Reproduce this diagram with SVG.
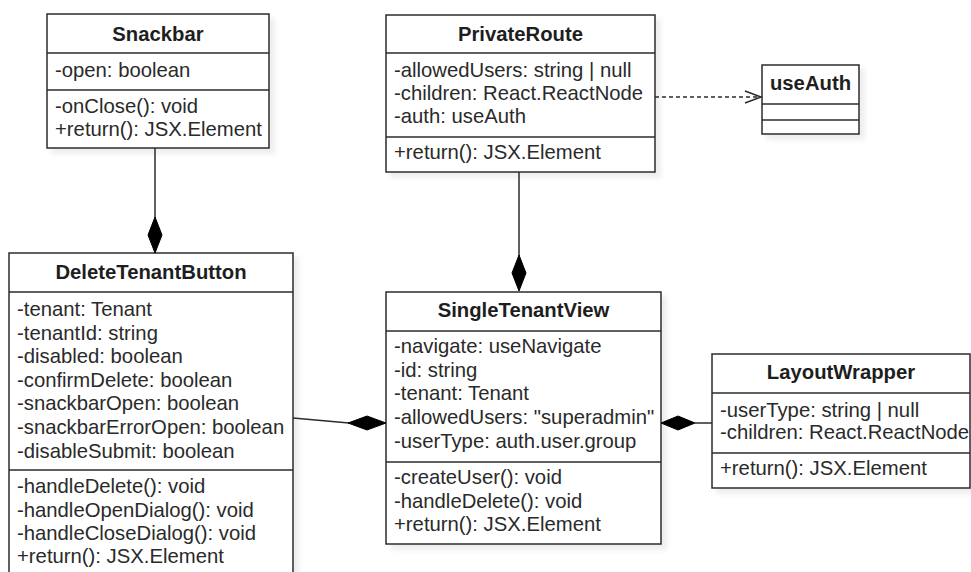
<svg xmlns="http://www.w3.org/2000/svg" width="971" height="572" viewBox="0 0 971 572">
  <defs>
    <filter id="shadow" x="-10%" y="-10%" width="130%" height="130%">
      <feGaussianBlur in="SourceAlpha" stdDeviation="2.5"/>
      <feOffset dx="5" dy="5" result="b"/>
      <feFlood flood-color="#000" flood-opacity="0.07"/>
      <feComposite in2="b" operator="in"/>
      <feMerge><feMergeNode/><feMergeNode in="SourceGraphic"/></feMerge>
    </filter>
  </defs>
  <style>
    .box { fill: #ffffff; stroke: #2b2b2b; stroke-width: 1.5; }
    .sep { stroke: #2b2b2b; stroke-width: 1.5; }
    .title { font-family: "Liberation Sans", Arial, sans-serif; font-size: 20.3px; font-weight: bold; fill: #1e1e1e; text-anchor: middle; }
    .mem { font-family: "Liberation Sans", Arial, sans-serif; font-size: 20.3px; fill: #2a2a2a; }
    .edge { stroke: #2b2b2b; stroke-width: 1.5; fill: none; }
    .dash { stroke-dasharray: 4 3; }
    .comp { fill: #000000; stroke: #000000; stroke-width: 1; }
  </style>

  <!-- Snackbar -->
  <g id="snackbar">
    <rect class="box" x="47" y="14" width="222" height="134" filter="url(#shadow)"/>
    <line class="sep" x1="47" y1="53" x2="269" y2="53"/>
    <line class="sep" x1="47" y1="90" x2="269" y2="90"/>
    <text class="title" x="158" y="41">Snackbar</text>
    <text class="mem" x="55" y="77">-open: boolean</text>
    <text class="mem" x="55" y="113">-onClose(): void</text>
    <text class="mem" x="55" y="136">+return(): JSX.Element</text>
  </g>

  <!-- PrivateRoute -->
  <g id="privateRoute">
    <rect class="box" x="386" y="15" width="269" height="157" filter="url(#shadow)"/>
    <line class="sep" x1="386" y1="53" x2="655" y2="53"/>
    <line class="sep" x1="386" y1="137" x2="655" y2="137"/>
    <text class="title" x="520.5" y="41">PrivateRoute</text>
    <text class="mem" x="394" y="77">-allowedUsers: string | null</text>
    <text class="mem" x="394" y="100">-children: React.ReactNode</text>
    <text class="mem" x="394" y="123">-auth: useAuth</text>
    <text class="mem" x="394" y="159">+return(): JSX.Element</text>
  </g>

  <!-- useAuth -->
  <g id="useAuth">
    <rect class="box" x="762" y="65" width="97" height="69" filter="url(#shadow)"/>
    <line class="sep" x1="762" y1="104" x2="859" y2="104"/>
    <line class="sep" x1="762" y1="120" x2="859" y2="120"/>
    <text class="title" x="810.5" y="90">useAuth</text>
  </g>

  <!-- DeleteTenantButton -->
  <g id="deleteTenantButton">
    <rect class="box" x="9" y="253" width="284" height="330" filter="url(#shadow)"/>
    <line class="sep" x1="9" y1="292" x2="293" y2="292"/>
    <line class="sep" x1="9" y1="470" x2="293" y2="470"/>
    <text class="title" x="151" y="279">DeleteTenantButton</text>
    <text class="mem" x="17" y="316">-tenant: Tenant</text>
    <text class="mem" x="17" y="339.6">-tenantId: string</text>
    <text class="mem" x="17" y="363.2">-disabled: boolean</text>
    <text class="mem" x="17" y="386.8">-confirmDelete: boolean</text>
    <text class="mem" x="17" y="410.4">-snackbarOpen: boolean</text>
    <text class="mem" x="17" y="434">-snackbarErrorOpen: boolean</text>
    <text class="mem" x="17" y="457.6">-disableSubmit: boolean</text>
    <text class="mem" x="17" y="493">-handleDelete(): void</text>
    <text class="mem" x="17" y="516.5">-handleOpenDialog(): void</text>
    <text class="mem" x="17" y="540">-handleCloseDialog(): void</text>
    <text class="mem" x="17" y="563">+return(): JSX.Element</text>
  </g>

  <!-- SingleTenantView -->
  <g id="singleTenantView">
    <rect class="box" x="386" y="292" width="275" height="252" filter="url(#shadow)"/>
    <line class="sep" x1="386" y1="331" x2="661" y2="331"/>
    <line class="sep" x1="386" y1="462" x2="661" y2="462"/>
    <text class="title" x="523.5" y="317">SingleTenantView</text>
    <text class="mem" x="394" y="353">-navigate: useNavigate</text>
    <text class="mem" x="394" y="377">-id: string</text>
    <text class="mem" x="394" y="400">-tenant: Tenant</text>
    <text class="mem" x="394" y="424">-allowedUsers: "superadmin"</text>
    <text class="mem" x="394" y="448">-userType: auth.user.group</text>
    <text class="mem" x="394" y="484">-createUser(): void</text>
    <text class="mem" x="394" y="508">-handleDelete(): void</text>
    <text class="mem" x="394" y="531">+return(): JSX.Element</text>
  </g>

  <!-- LayoutWrapper -->
  <g id="layoutWrapper">
    <rect class="box" x="712" y="354" width="258" height="134" filter="url(#shadow)"/>
    <line class="sep" x1="712" y1="393" x2="970" y2="393"/>
    <line class="sep" x1="712" y1="453" x2="970" y2="453"/>
    <text class="title" x="841" y="379">LayoutWrapper</text>
    <text class="mem" x="720" y="417">-userType: string | null</text>
    <text class="mem" x="720" y="439">-children: React.ReactNode</text>
    <text class="mem" x="720" y="475">+return(): JSX.Element</text>
  </g>

  <!-- Connectors -->
  <g id="connectors">
    <!-- Snackbar composed into DeleteTenantButton -->
    <line class="edge" x1="155" y1="148" x2="155" y2="218"/>
    <polygon class="comp" points="155,217 162,235 155,253 148,235"/>
    <!-- PrivateRoute composed into SingleTenantView -->
    <line class="edge" x1="519" y1="172" x2="519" y2="256"/>
    <polygon class="comp" points="519,255 526,273 519,291 512,273"/>
    <!-- PrivateRoute depends on useAuth -->
    <line class="edge dash" x1="655" y1="97" x2="761" y2="97"/>
    <polyline class="edge" points="745,91 761,97 745,103"/>
    <!-- DeleteTenantButton composed into SingleTenantView -->
    <line class="edge" x1="293" y1="418" x2="349" y2="423"/>
    <polygon class="comp" points="386,423 367,416 348,423 367,430"/>
    <!-- LayoutWrapper composed into SingleTenantView -->
    <polygon class="comp" points="661,423 678,416 695,423 678,430"/>
    <line class="edge" x1="694" y1="423" x2="712" y2="423"/>
  </g>
</svg>
